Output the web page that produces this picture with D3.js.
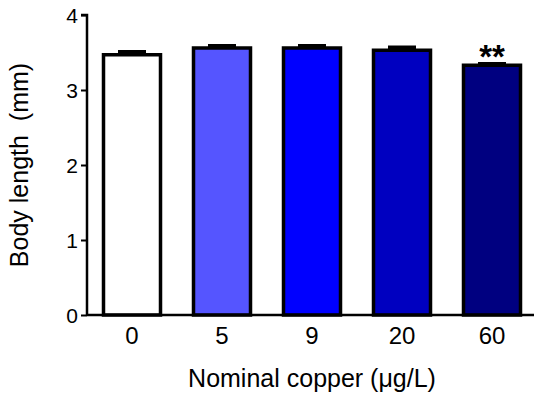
<!DOCTYPE html>
<html>
<head>
<meta charset="utf-8">
<script src="https://cdn.jsdelivr.net/npm/d3@7"></script>
<style>
  html, body { margin: 0; padding: 0; background: #fff; }
  svg { display: block; font-family: Arial, "Liberation Sans", sans-serif; }
</style>
</head>
<body>
<svg id="chart" width="534" height="397"></svg>
<script>
const categories = ["0", "5", "9", "20", "60"];
const means = [3.47, 3.56, 3.56, 3.53, 3.33];
const errors = [0.04, 0.03, 0.03, 0.04, 0.02];
const colors = ["#ffffff", "#5555ff", "#0000ff", "#0000c0", "#000080"];
const significance = ["", "", "", "", "**"];
const yTicks = [0, 1, 2, 3, 4];

const svg = d3.select("#chart");
const margin = { left: 87, top: 15, bottom: 315, right: 537 };

const x = d3.scaleBand().domain(categories).range([margin.left, margin.right])
  .paddingInner(1 / 3).paddingOuter(1 / 6);
const y = d3.scaleLinear().domain([0, 4]).range([margin.bottom, margin.top]);

const data = categories.map((c, i) => ({ c, m: means[i], e: errors[i], col: colors[i], s: significance[i] }));

// error bars (upper only)
const eb = svg.append("g");
data.forEach(d => {
  const cx = x(d.c) + x.bandwidth() / 2;
  eb.append("line").attr("x1", cx).attr("x2", cx).attr("y1", y(d.m)).attr("y2", y(d.m + d.e))
    .attr("stroke", "#000").attr("stroke-width", 3);
  eb.append("line").attr("x1", cx - 14).attr("x2", cx + 14).attr("y1", y(d.m + d.e)).attr("y2", y(d.m + d.e))
    .attr("stroke", "#000").attr("stroke-width", 3.5);
});

// bars
svg.append("g").selectAll("rect").data(data).join("rect")
  .attr("x", d => x(d.c) + 1.5)
  .attr("width", x.bandwidth() - 3)
  .attr("y", d => y(d.m))
  .attr("height", d => y(0) - y(d.m))
  .attr("fill", d => d.col)
  .attr("stroke", "#000")
  .attr("stroke-width", 3.5);

// significance
svg.append("g").selectAll("text").data(data.filter(d => d.s)).join("text")
  .attr("x", d => x(d.c) + x.bandwidth() / 2)
  .attr("y", d => y(d.m + d.e) + 4)
  .attr("text-anchor", "middle")
  .attr("font-size", 33)
  .attr("font-weight", "bold")
  .text(d => d.s);

// y axis
const yAxis = svg.append("g").attr("transform", `translate(${margin.left},0)`)
  .call(d3.axisLeft(y).tickValues(yTicks).tickFormat(d3.format("d")).tickSize(6).tickPadding(3));
yAxis.select(".domain").attr("d", `M-6,${y(4)}H0V${y(0)}`).attr("stroke-width", 2.5);
yAxis.selectAll(".tick line").attr("stroke-width", 2);
yAxis.selectAll(".tick text").attr("font-size", 21).attr("fill", "#000").attr("dy", "0.35em");

// x axis
const xAxis = svg.append("g").attr("transform", `translate(0,${margin.bottom})`)
  .call(d3.axisBottom(x).tickSize(0).tickPadding(12));
xAxis.select(".domain").attr("d", `M${margin.left},0H534`).attr("stroke-width", 2.5);
xAxis.selectAll(".tick text").attr("font-size", 24).attr("fill", "#000");

// axis titles
svg.append("text")
  .attr("transform", `translate(28,${(margin.top + margin.bottom) / 2 + 0}) rotate(-90)`)
  .attr("text-anchor", "middle")
  .attr("font-size", 25)
  .attr("xml:space", "preserve")
  .style("white-space", "pre")
  .text("Body length  (mm)");

svg.append("text")
  .attr("x", 312)
  .attr("y", 387)
  .attr("text-anchor", "middle")
  .attr("font-size", 25)
  .text("Nominal copper (μg/L)");
</script>
</body>
</html>
